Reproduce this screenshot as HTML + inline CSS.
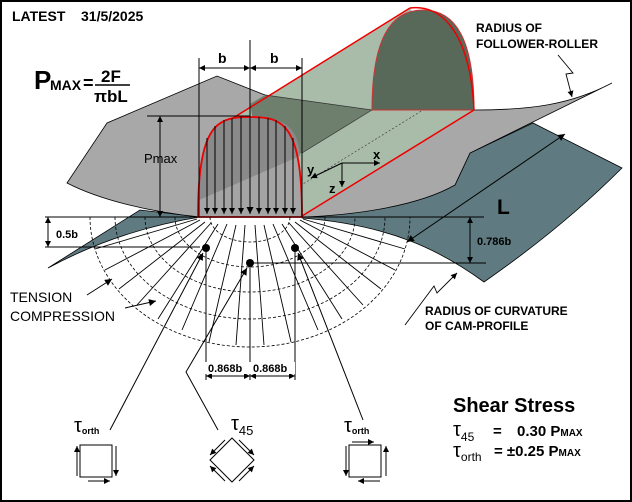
<!DOCTYPE html>
<html><head><meta charset="utf-8"><style>
html,body{margin:0;padding:0;background:#fff}
svg{display:block}
text{font-family:"Liberation Sans",sans-serif}
</style></head><body>
<svg width="632" height="502" viewBox="0 0 632 502" xmlns="http://www.w3.org/2000/svg">
<defs>
<marker id="ah" viewBox="0 0 10 10" refX="10" refY="5" markerWidth="9" markerHeight="7" orient="auto-start-reverse" markerUnits="userSpaceOnUse"><path d="M0,0 L10,5 L0,10 z" fill="#000"/></marker>
<marker id="as" viewBox="0 0 10 10" refX="10" refY="5" markerWidth="7" markerHeight="6" orient="auto-start-reverse" markerUnits="userSpaceOnUse"><path d="M0,0 L10,5 L0,10 z" fill="#000"/></marker>
</defs>
<rect x="1" y="1" width="630" height="500" fill="#fff" stroke="#000" stroke-width="2"/>
<text x="12" y="21" font-size="14" font-weight="bold">LATEST</text>
<text x="81" y="21" font-size="14" font-weight="bold">31/5/2025</text>

<!-- cam shapes -->
<path d="M48,268 L140,210 L200,217 C150,225 100,240 48,268 Z" fill="#5f7a80" stroke="#000" stroke-width="0.8"/>
<path d="M302,217 L455,185 L470,153 L533,123 L622,168 C580,210 530,250 484,282 C440,250 390,225 302,218 Z" fill="#5f7a80" stroke="#000" stroke-width="0.8"/>

<!-- gray roller -->
<path d="M67,183 L107,123 L217,76 L265,95 L372,110 L474,110 C530,110 570,105 612,83 L470,153 L455,185 C420,205 360,215 302,217 L200,217 C150,212 100,200 67,183 Z" fill="#a8a8a8" stroke="#000" stroke-width="0.8"/>

<!-- green prism -->
<path d="M233,118 L410,8 L474,110 L302,216 Z" fill="#a9bcaa"/>
<path d="M250,104 L265,95 L372,110 L302,153 L262,170 Z" fill="#6e7f6e"/>
<path d="M372,110 L302,153" stroke="#333" stroke-width="0.7"/>
<path d="M265,95 L372,110" stroke="#333" stroke-width="0.7"/>
<path d="M372,110 C372,40 390,10 423,10 C456,10 474,40 474,110 Z" fill="#58695a" stroke="#c33" stroke-width="1"/>
<line x1="290" y1="192" x2="423" y2="110" stroke="#444" stroke-width="0.7" stroke-dasharray="2,2"/>
<line x1="233" y1="118" x2="410" y2="8" stroke="#e00" stroke-width="1.5"/>
<line x1="302" y1="216" x2="474" y2="110" stroke="#e00" stroke-width="1.5"/>
<path d="M410,8 C440,4 470,30 474,110" fill="none" stroke="#e00" stroke-width="1.5"/>

<!-- front profile -->
<path d="M198,217 C198,122 218,117 250,117 C282,117 302,122 302,217 Z" fill="#a4a4a4"/>
<path d="M199,200 C199,125 218,117 250,117 C282,117 298,125 300,156 Z" fill="#8a8a8a"/>
<path d="M198,217 C198,122 218,117 250,117 C282,117 302,122 302,217 L198,217" fill="none" stroke="#e00" stroke-width="1.8"/>

<!-- vertical pressure arrows -->
<g stroke="#000" stroke-width="1" marker-end="url(#as)">
<line x1="207" y1="138" x2="207" y2="214"/>
<line x1="215" y1="126" x2="215" y2="214"/>
<line x1="224" y1="120" x2="224" y2="214"/>
<line x1="232" y1="118" x2="232" y2="214"/>
<line x1="241" y1="117" x2="241" y2="214"/>
<line x1="259" y1="117" x2="259" y2="214"/>
<line x1="268" y1="118" x2="268" y2="214"/>
<line x1="276" y1="120" x2="276" y2="214"/>
<line x1="285" y1="126" x2="285" y2="214"/>
<line x1="293" y1="138" x2="293" y2="214"/>
</g>
<line x1="250" y1="40" x2="250" y2="214" stroke="#000" stroke-width="1" marker-end="url(#ah)"/>

<!-- dimension lines -->
<g stroke="#000" stroke-width="1" fill="none">
<line x1="199" y1="58" x2="199" y2="217"/>
<line x1="302" y1="58" x2="302" y2="217"/>
<line x1="199" y1="68" x2="250" y2="68" marker-start="url(#as)" marker-end="url(#as)"/>
<line x1="250" y1="68" x2="302" y2="68" marker-start="url(#as)" marker-end="url(#as)"/>
<line x1="147" y1="116" x2="250" y2="116"/>
<line x1="160" y1="116" x2="160" y2="217" marker-start="url(#as)" marker-end="url(#as)"/>
<line x1="45" y1="217" x2="484" y2="217"/>
<line x1="45" y1="247" x2="200" y2="247"/>
<line x1="48" y1="217" x2="48" y2="247" marker-start="url(#as)" marker-end="url(#as)"/>
<line x1="250" y1="263" x2="486" y2="263"/>
<line x1="470" y1="217" x2="470" y2="263" marker-start="url(#as)" marker-end="url(#as)"/>
<line x1="407" y1="242" x2="565" y2="134" marker-start="url(#ah)" marker-end="url(#ah)"/>
</g>
<text x="218" y="63" font-size="14" font-weight="bold">b</text>
<text x="270" y="63" font-size="14" font-weight="bold">b</text>
<text x="144" y="163" font-size="13">Pmax</text>
<text x="56" y="238" font-size="11" font-weight="bold">0.5b</text>
<text x="477" y="245" font-size="11" font-weight="bold">0.786b</text>
<text x="497" y="214" font-size="21" font-weight="bold">L</text>

<!-- stress field -->
<g fill="none" stroke="#000" stroke-width="0.8" stroke-dasharray="3,2">
<path d="M210,217 A40,25 0 0 0 290,217"/>
<path d="M175,217 A75,50 0 0 0 325,217"/>
<path d="M145,217 A105,75 0 0 0 355,217"/>
<path d="M115,217 A135,102 0 0 0 385,217"/>
<path d="M90,217 A160,130 0 0 0 410,217"/>
</g>
<g stroke="#000" stroke-width="0.9">
<line x1="303" y1="219" x2="405" y2="249"/><line x1="197" y1="219" x2="95" y2="249"/>
<line x1="300" y1="220" x2="395" y2="270"/><line x1="200" y1="220" x2="105" y2="270"/>
<line x1="295" y1="222" x2="381" y2="289"/><line x1="205" y1="222" x2="119" y2="289"/>
<line x1="289" y1="223" x2="363" y2="305"/><line x1="211" y1="223" x2="137" y2="305"/>
<line x1="282" y1="224" x2="342" y2="319"/><line x1="218" y1="224" x2="158" y2="319"/>
<line x1="273" y1="224" x2="318" y2="330"/><line x1="227" y1="224" x2="182" y2="330"/>
<line x1="264" y1="225" x2="291" y2="342"/><line x1="236" y1="225" x2="209" y2="342"/>
<line x1="255" y1="225" x2="264" y2="345"/><line x1="245" y1="225" x2="236" y2="345"/>
</g>

<!-- dots & 0.868b -->
<g stroke="#000" stroke-width="1" fill="none">
<line x1="206" y1="248" x2="206" y2="380"/>
<line x1="250" y1="263" x2="250" y2="380"/>
<line x1="295" y1="248" x2="295" y2="380"/>
<line x1="206" y1="376" x2="250" y2="376" marker-start="url(#as)" marker-end="url(#as)"/>
<line x1="250" y1="376" x2="295" y2="376" marker-start="url(#as)" marker-end="url(#as)"/>
<line x1="110" y1="430" x2="203" y2="253" marker-end="url(#ah)"/>
<polyline points="218,430 186,372 247,268" marker-end="url(#ah)"/>
<line x1="363" y1="420" x2="298" y2="253" marker-end="url(#ah)"/>
<line x1="87" y1="295" x2="112" y2="279" marker-end="url(#ah)"/>
<line x1="125" y1="308" x2="156" y2="301" marker-end="url(#ah)"/>
</g>
<rect x="205" y="362" width="90" height="12" fill="#fff"/>
<text x="208" y="372" font-size="11" font-weight="bold">0.868b</text>
<text x="253" y="372" font-size="11" font-weight="bold">0.868b</text>
<circle cx="206" cy="248" r="4"/><circle cx="250" cy="263" r="4"/><circle cx="295" cy="248" r="4"/>

<text x="10" y="302" font-size="14">TENSION</text>
<text x="10" y="321" font-size="14">COMPRESSION</text>

<!-- P_MAX formula -->
<text x="34" y="89" font-size="26" font-weight="bold">P</text>
<text x="50" y="90" font-size="14" font-weight="bold">MAX</text>
<text x="83" y="89" font-size="18" font-weight="bold">=</text>
<text x="101" y="82" font-size="17" font-weight="bold">2F</text>
<line x1="95" y1="85" x2="130" y2="85" stroke="#000" stroke-width="1.5"/>
<text x="94" y="102" font-size="17" font-weight="bold">πbL</text>

<!-- labels right -->
<text x="476" y="32" font-size="12" font-weight="bold">RADIUS OF</text>
<text x="476" y="48" font-size="12" font-weight="bold">FOLLOWER-ROLLER</text>
<polyline points="558,55 573,73 566,74 572,97" fill="none" stroke="#000" stroke-width="0.9" marker-end="url(#as)"/>
<text x="425" y="315" font-size="12" font-weight="bold">RADIUS OF CURVATURE</text>
<text x="425" y="330" font-size="12" font-weight="bold">OF CAM-PROFILE</text>
<polyline points="405,325 434,286 437,293 457,273" fill="none" stroke="#000" stroke-width="0.9" marker-end="url(#as)"/>

<!-- axes -->
<g stroke="#000" stroke-width="1" fill="none">
<line x1="342" y1="163" x2="380" y2="163" marker-end="url(#as)"/>
<line x1="342" y1="163" x2="342" y2="187" marker-end="url(#as)"/>
<line x1="342" y1="163" x2="311" y2="178" marker-end="url(#as)"/>
</g>
<text x="373" y="159" font-size="13" font-weight="bold">x</text>
<text x="329" y="193" font-size="13" font-weight="bold">z</text>
<text x="307" y="174" font-size="13" font-weight="bold">y</text>

<!-- tau elements -->
<text x="74" y="432" font-size="20">τ<tspan font-size="9" font-weight="bold" dy="2">orth</tspan></text>
<rect x="80" y="445" width="32" height="32" fill="none" stroke="#000" stroke-width="1"/>
<g stroke="#000" stroke-width="1" fill="none">
<line x1="77" y1="476" x2="77" y2="446" marker-end="url(#as)"/>
<line x1="116" y1="446" x2="116" y2="476" marker-end="url(#as)"/>
<line x1="88" y1="481" x2="110" y2="481" marker-end="url(#as)"/>
<line x1="346" y1="446" x2="346" y2="476" marker-end="url(#as)"/>
<line x1="386" y1="476" x2="386" y2="446" marker-end="url(#as)"/>
<line x1="352" y1="442" x2="374" y2="442" marker-end="url(#as)"/>
<line x1="380" y1="481" x2="358" y2="481" marker-end="url(#as)"/>
<line x1="225" y1="440" x2="210" y2="455" marker-end="url(#as)"/>
<line x1="239" y1="440" x2="254" y2="455" marker-end="url(#as)"/>
<line x1="225" y1="481" x2="210" y2="466" marker-end="url(#as)"/>
<line x1="239" y1="481" x2="254" y2="466" marker-end="url(#as)"/>
</g>
<polygon points="232,438 254,460 232,482 210,460" fill="none" stroke="#000" stroke-width="1"/>
<text x="231" y="430" font-size="20">τ<tspan font-size="13" dy="5">45</tspan></text>
<text x="344" y="432" font-size="20">τ<tspan font-size="9" font-weight="bold" dy="2">orth</tspan></text>
<rect x="349" y="445" width="32" height="32" fill="none" stroke="#000" stroke-width="1"/>

<!-- shear stress -->
<text x="453" y="412" font-size="20" font-weight="bold">Shear Stress</text>
<text x="453" y="436" font-size="20">τ<tspan font-size="12" dy="5">45</tspan></text>
<text x="493" y="436" font-size="15" font-weight="bold">=</text>
<text x="517" y="436" font-size="15" font-weight="bold">0.30 P<tspan font-size="10">MAX</tspan></text>
<text x="453" y="457" font-size="20">τ<tspan font-size="12" dy="4">orth</tspan></text>
<text x="494" y="456" font-size="15" font-weight="bold">= ±0.25 P<tspan font-size="10">MAX</tspan></text>
</svg>
</body></html>
